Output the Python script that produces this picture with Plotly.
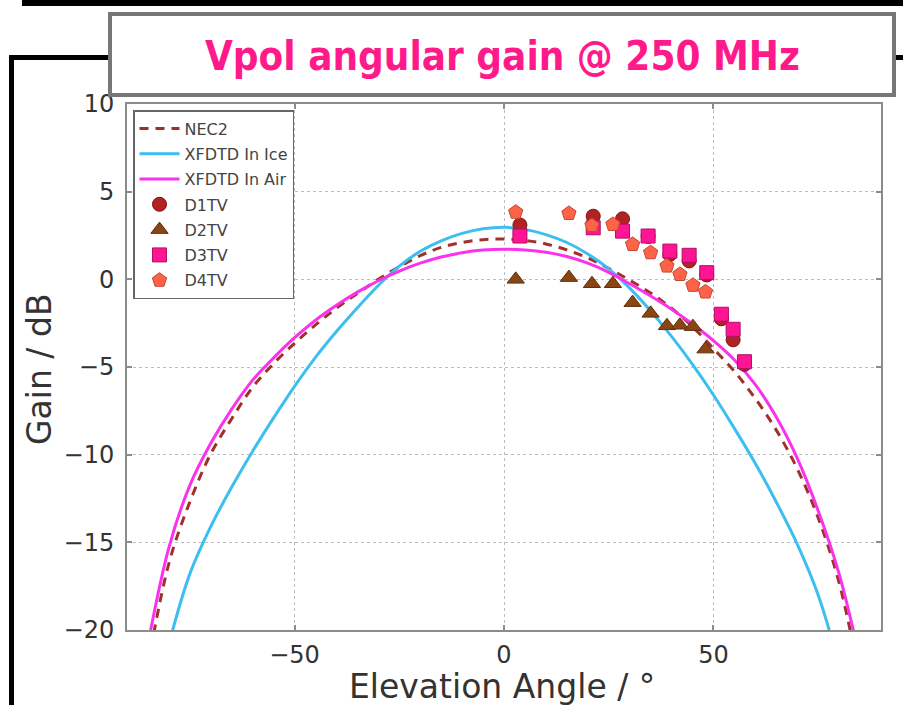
import plotly.graph_objects as go

# ---------------- data ----------------
angle_grid = [-85, -80, -75, -70, -65, -60, -55, -50, -45, -40, -35, -30, -25, -20, -15, -10, -5,
              0, 5, 10, 15, 20, 25, 30, 35, 40, 45, 50, 55, 60, 65, 70, 75, 80, 85]
nec2 = [-22.0, -16.2, -12.7, -9.95, -7.95, -6.15, -4.8, -3.65, -2.6, -1.65, -0.8, 0.0, 0.72, 1.35, 1.82, 2.1, 2.26,
        2.3, 2.22, 2.02, 1.68, 1.22, 0.62, -0.05, -0.78, -1.65, -2.7, -3.95, -5.25, -6.8, -8.6, -10.8, -13.6, -17.3, -22.8]
xfdtd_air = [-20.8, -15.3, -11.75, -9.35, -7.4, -5.75, -4.48, -3.33, -2.33, -1.48, -0.73, -0.08, 0.47, 0.92, 1.27, 1.52, 1.67,
             1.72, 1.68, 1.55, 1.3, 0.92, 0.4, -0.25, -0.95, -1.7, -2.55, -3.5, -4.6, -6.0, -7.85, -10.2, -13.2, -16.8, -21.7]

angle_ice = [-80, -75, -70, -65, -60, -55, -50, -45, -40, -35, -30, -25, -20, -15, -10, -5,
             0, 5, 10, 15, 20, 25, 30, 35, 40, 45, 50, 55, 60, 65, 70, 75, 80]
xfdtd_ice = [-20.8, -16.8, -14.1, -11.85, -9.8, -7.9, -6.1, -4.45, -2.98, -1.62, -0.35, 0.75, 1.6, 2.2, 2.62, 2.88,
             2.97, 2.85, 2.55, 2.1, 1.45, 0.6, -0.5, -1.8, -3.25, -4.85, -6.6, -8.5, -10.5, -12.7, -15.1, -18.0, -22.0]

angle_d13 = [3.8, 21.3, 28.3, 34.4, 39.6, 44.2, 48.4, 51.9, 54.7, 57.4]
d1tv = [3.1, 3.6, 3.45, 2.45, 1.42, 1.05, 0.25, -2.25, -3.45, -4.85]
d3tv = [2.47, 2.94, 2.75, 2.47, 1.61, 1.37, 0.38, -1.99, -2.85, -4.7]

angle_d24 = [2.8, 15.5, 21.0, 26.0, 30.7, 35.0, 38.9, 42.0, 45.1, 48.1]
d2tv = [0.0, 0.1, -0.25, -0.25, -1.33, -1.94, -2.65, -2.62, -2.7, -3.98]
d4tv = [3.83, 3.76, 3.07, 3.13, 1.99, 1.52, 0.76, 0.28, -0.34, -0.72]

x_ticks = [-50, 0, 50]
y_ticks = [10, 5, 0, -5, -10, -15, -20]

# ---------------- geometry helpers (layout decoration only) ----------------
W, H = 903, 705
L, R, T, B = 127, 881, 104, 630


def px(x):
    return (x - L) / (R - L)


def py(y):
    return (B - y) / (B - T)


fig = go.Figure()

fig.add_trace(go.Scatter(x=angle_grid, y=nec2, mode="lines", name="NEC2", legendgroup="a",
                         line=dict(color="#A0302C", width=3, dash="9px,7px", shape="spline", smoothing=1)))
fig.add_trace(go.Scatter(x=angle_ice, y=xfdtd_ice, mode="lines", name="XFDTD In Ice", legendgroup="b",
                         line=dict(color="#3DBEF0", width=3, shape="spline", smoothing=1)))
fig.add_trace(go.Scatter(x=angle_grid, y=xfdtd_air, mode="lines", name="XFDTD In Air", legendgroup="c",
                         line=dict(color="#FA32EC", width=3, shape="spline", smoothing=1)))

fig.add_trace(go.Scatter(x=angle_d13, y=d1tv, mode="markers", name="D1TV", legendgroup="d",
                         marker=dict(symbol="circle", size=14, color="#B22222", line=dict(color="#7A1515", width=1))))
fig.add_trace(go.Scatter(x=angle_d24, y=d2tv, mode="markers", name="D2TV", legendgroup="e",
                         marker=dict(symbol="triangle-up", size=15, color="#8B4513", line=dict(color="#5E2E0C", width=1))))
fig.add_trace(go.Scatter(x=angle_d13, y=d3tv, mode="markers", name="D3TV", legendgroup="f",
                         marker=dict(symbol="square", size=14, color="#FF1493", line=dict(color="#B00E66", width=1))))
fig.add_trace(go.Scatter(x=angle_d24, y=d4tv, mode="markers", name="D4TV", legendgroup="g",
                         marker=dict(symbol="pentagon", size=15, color="#FF6347", line=dict(color="#C24530", width=1))))

axis_common = dict(
    showline=True, linecolor="#8C8C8C", linewidth=2, mirror="allticks",
    ticks="inside", ticklen=5, tickcolor="#8C8C8C", tickwidth=1.5,
    showgrid=True, gridcolor="#BDBDBD", griddash="dot", gridwidth=1,
    zeroline=False,
    tickfont=dict(family="DejaVu Sans", size=24, color="#333333"),
)

fig.update_xaxes(range=[-90, 90], tickvals=x_ticks, ticklabelstandoff=2, **axis_common)
fig.update_yaxes(range=[-20, 10], tickvals=y_ticks, ticklabelstandoff=6, **axis_common)

shapes = [
    # slide decorations
    dict(type="rect", xref="paper", yref="paper", x0=px(22), x1=px(903), y0=py(0), y1=py(6),
         fillcolor="black", line=dict(width=0), layer="above"),
    dict(type="line", xref="paper", yref="paper", x0=px(9), x1=px(903), y0=py(57.5), y1=py(57.5),
         line=dict(color="black", width=5), layer="above"),
    dict(type="line", xref="paper", yref="paper", x0=px(11.5), x1=px(11.5), y0=py(55), y1=py(705),
         line=dict(color="black", width=5), layer="above"),
    dict(type="rect", xref="paper", yref="paper", x0=px(110), x1=px(894), y0=py(14), y1=py(95),
         fillcolor="white", line=dict(color="#777777", width=4), layer="above"),
]

annotations = [
    dict(text="<b>Vpol angular gain @ 250 MHz</b>", xref="paper", yref="paper", x=px(502), y=py(56),
         xanchor="center", yanchor="middle", showarrow=False,
         font=dict(family="DejaVu Sans Condensed, sans-serif", size=40, color="#FF1A8C")),
    dict(text="Elevation Angle / °", xref="paper", yref="paper", x=px(502), y=py(686),
         xanchor="center", yanchor="middle", showarrow=False,
         font=dict(family="DejaVu Sans", size=33, color="#333333")),
    dict(text="Gain / dB", xref="paper", yref="paper", x=px(40), y=py(369), textangle=-90,
         xanchor="center", yanchor="middle", showarrow=False,
         font=dict(family="DejaVu Sans", size=33, color="#333333")),
]

fig.update_layout(
    width=W, height=H,
    margin=dict(l=L, r=W - R, t=T, b=H - B),
    paper_bgcolor="white", plot_bgcolor="white",
    shapes=shapes, annotations=annotations,
    showlegend=True,
    legend=dict(x=px(133), y=py(110), xanchor="left", yanchor="top",
                bgcolor="white", bordercolor="#666666", borderwidth=1.5,
                font=dict(family="DejaVu Sans", size=16, color="#444444"),
                tracegroupgap=1.5, traceorder="grouped", itemwidth=40),
)

fig.write_html("out.html")
